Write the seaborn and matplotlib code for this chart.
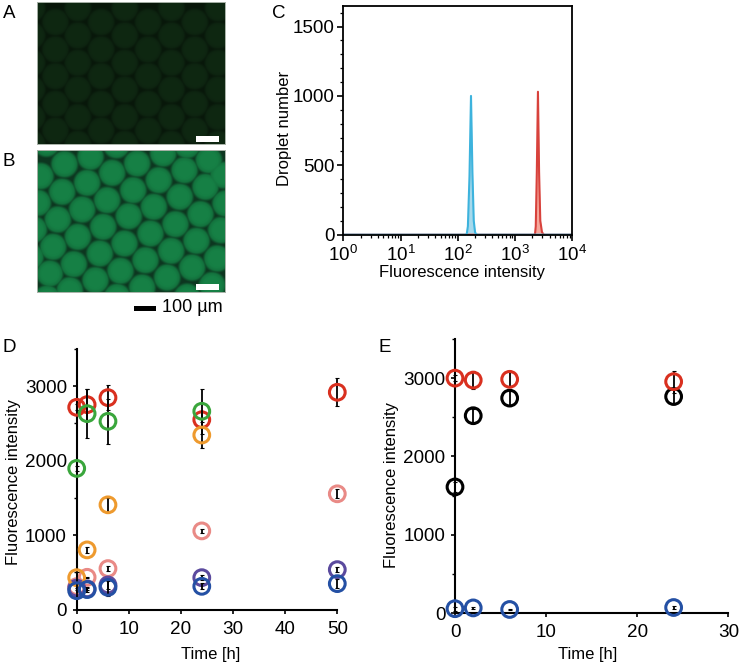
import numpy as np
import pandas as pd
import matplotlib
matplotlib.use("Agg")
import matplotlib.pyplot as plt
from matplotlib.ticker import MultipleLocator, LogLocator, NullFormatter
from matplotlib.patches import Rectangle
import seaborn as sns

sns.set_theme(style="ticks")
plt.rcParams["font.family"] = ["Liberation Sans", "DejaVu Sans"]
plt.rcParams["mathtext.default"] = "regular"
plt.rcParams["axes.unicode_minus"] = False

W, H = 740, 665
FS = 12
TICK_FS = 13.6

# ---- panel C histogram values
c_blue_x = [1, 135, 143, 150, 160, 170, 180, 190, 200, 208, 225, 10000]
c_blue_y = [0, 0, 3, 60, 420, 1000, 450, 100, 20, 3, 0, 0]
c_red_x = [1, 2100, 2228, 2300, 2400, 2512, 2630, 2760, 2950, 3113, 3300, 10000]
c_red_y = [0, 0, 3, 60, 450, 1030, 450, 100, 20, 3, 0, 0]

# ---- panel D
d_t_red = [0, 2, 6, 24, 50]
d_red = [2717, 2753, 2847, 2551, 2919]
d_red_err = [40, 210, 166, 100, 190]
d_t_green = [0, 2, 6, 24]
d_green = [1897, 2632, 2529, 2664]
d_green_err = [30, 330, 305, 300]
d_t_orange = [0, 2, 6, 24]
d_orange = [430, 803, 1408, 2345]
d_orange_err = [70, 45, 95, 175]
d_t_pink = [0, 2, 6, 24, 50]
d_pink = [310, 435, 552, 1058, 1556]
d_pink_err = [20, 5, 30, 30, 60]
d_t_purple = [0, 2, 6, 24, 50]
d_purple = [290, 280, 332, 430, 538]
d_purple_err = [25, 10, 50, 30, 30]
d_t_blue = [0, 2, 6, 24, 50]
d_blue = [255, 270, 300, 314, 350]
d_blue_err = [100, 30, 110, 40, 60]

# ---- panel E
e_t = [0, 2, 6, 24]
e_red = [3000, 2975, 2985, 2955]
e_red_err = [40, 110, 90, 140]
e_black = [1610, 2520, 2745, 2765]
e_black_err = [60, 80, 90, 100]
e_blue = [55, 65, 45, 70]
e_blue_err = [25, 10, 10, 20]

C_RED = "#d9301f"
C_GREEN = "#3aa63c"
C_ORANGE = "#ee9a2e"
C_PINK = "#e98a86"
C_PURPLE = "#5b4a9e"
C_BLUE = "#2450a4"
C_BLACK = "#000000"

# ---- droplet centres in the photographs (crop units, 3 per pixel)
a_col_x = [-15, 55, 122, 192, 263, 333, 403, 473, 543]
a_col_y_odd = [18, 100, 182, 262, 345, 425]
a_col_y_even = [60, 142, 222, 305, 385, 465]
b_cx = [28, 82, 160, 238, 300, 378, 442, 515, 450,
        10, 150, 225, 365, 288, 505, 428, 558,
        75, 135, 210, 350, 275, 490, 415, 565,
        2, 62, 198, 340, 262, 478, 402, 552,
        -10, 48, 122, 188, 325, 250, 465, 390, 540,
        -20, 110, 38, 175, 315, 525, 98, 240, 450, 30]
b_cy = [-20, 42, 20, -15, 40, 10, 60, 30, -15,
        78, 98, 68, 90, 120, 110, 140, 75,
        125, 178, 150, 170, 198, 192, 222, 160,
        158, 208, 230, 250, 280, 272, 302, 240,
        238, 290, 260, 310, 330, 362, 352, 382, 325,
        320, 342, 370, 390, 412, 405, 420, 440, 440, 445]


def px_axes(l, t, r, b):
    return fig.add_axes([l / W, 1 - b / H, (r - l) / W, (b - t) / H])


def droplet_image(cx, cy, rad, bright, edge, gap):
    X, Y = np.meshgrid(np.arange(0, 564, 1.0), np.arange(0, 426, 1.0))
    dist = np.full(X.shape, 1e9)
    for a, b in zip(cx, cy):
        dist = np.minimum(dist, np.hypot(X - a, Y - b))
    inner = np.clip((rad - dist) / 14.0, 0, 1)[..., None]
    rim = np.clip((rad + 4 - dist) / 8.0, 0, 1)[..., None]
    col = np.array(edge) + (np.array(bright) - np.array(edge)) * inner
    img = np.array(gap) + (col - np.array(gap)) * rim
    return img / 255.0


def photo(l, t, r, b, img):
    ax = px_axes(l, t, r, b)
    ax.imshow(img, extent=[0, 564, 426, 0], aspect="auto", interpolation="bilinear")
    ax.set_xticks([])
    ax.set_yticks([])
    for s in ax.spines.values():
        s.set_color("#a8b2a8")
        s.set_linewidth(0.7)
    ax.add_patch(Rectangle((478, 403), 68, 16, color="white", lw=0))
    return ax


def rings(ax, t, y, err, color, zo):
    ax.errorbar(t, y, yerr=err, fmt="none", ecolor="black", elinewidth=1.3, capsize=1.2,
                capthick=0.8, zorder=zo, clip_on=False)
    df = pd.DataFrame({"t": t, "y": y})
    sns.scatterplot(data=df, x="t", y="y", ax=ax, s=128, facecolor="none", edgecolor=color,
                    linewidth=2.2, zorder=zo + 0.5, clip_on=False, legend=False)


def place_labels(ax, xtext, ytext, xpos, ypos):
    ax.set_xlabel(xtext, fontsize=FS, color="black", va="center")
    ax.set_ylabel(ytext, fontsize=FS, color="black", va="center")
    ax.xaxis.set_label_coords(xpos[0] / W, 1 - xpos[1] / H, transform=fig.transFigure)
    ax.yaxis.set_label_coords(ypos[0] / W, 1 - ypos[1] / H, transform=fig.transFigure)


def lshape(ax, xpos, ypos):
    sns.despine(ax=ax)
    for side in ("left", "bottom"):
        ax.spines[side].set_linewidth(1.5)
        ax.spines[side].set_color("black")
    ax.patch.set_alpha(0)
    ax.tick_params(axis="x", which="major", labelsize=TICK_FS, colors="black", width=1.2, length=3, pad=5)
    ax.tick_params(axis="y", which="major", labelsize=TICK_FS, colors="black", width=1.2, length=3, pad=4)
    ax.tick_params(axis="y", which="minor", width=1.0, length=2, colors="black")
    place_labels(ax, "Time [h]", "Fluorescence intensity", xpos, ypos)


fig = plt.figure(figsize=(W / 100, H / 100), dpi=100, facecolor="white")

# ---- A
a_cx, a_cy = [], []
for i, xv in enumerate(a_col_x):
    for yv in (a_col_y_odd if i % 2 == 0 else a_col_y_even):
        a_cx.append(xv)
        a_cy.append(yv)
photo(37, 2, 225, 144, droplet_image(a_cx, a_cy, 40, (15, 40, 18), (13, 35, 16), (8, 23, 10)))

# ---- B
photo(37, 150, 225, 292, droplet_image(b_cx, b_cy, 40, (22, 128, 69), (18, 108, 58), (13, 54, 32)))

letter_pos = {"A": (3, 13), "B": (3, 162), "C": (272, 13), "D": (3, 348), "E": (378, 347)}
for letter, (xp, yp) in letter_pos.items():
    fig.text(xp / W, 1 - yp / H, letter, fontsize=13.5, color="black", ha="left", va="center")

fig.add_artist(Rectangle((134 / W, 1 - 311 / H), 22 / W, 5.5 / H, transform=fig.transFigure,
                         color="black", lw=0))
fig.text(162 / W, 1 - 308 / H, "100 µm", fontsize=13, color="black", ha="left", va="center")

# ---- C
axc = px_axes(343.3, 5.7, 572.3, 234.7)
axc.set_xscale("log")
axc.fill_between(c_blue_x, c_blue_y, color="#a6d9ec", lw=0, zorder=2)
axc.fill_between(c_red_x, c_red_y, color="#f6a79b", lw=0, zorder=2)
sns.lineplot(x=c_red_x, y=c_red_y, ax=axc, color="#d8423c", lw=1.5, zorder=3, errorbar=None,
             estimator=None, sort=False)
sns.lineplot(x=c_blue_x, y=c_blue_y, ax=axc, color="#3db3dd", lw=1.5, zorder=3, errorbar=None,
             estimator=None, sort=False)
axc.set_xlim(1, 10000)
axc.set_ylim(0, 1650)
axc.set_yticks([0, 500, 1000, 1500])
axc.yaxis.set_minor_locator(MultipleLocator(100))
axc.xaxis.set_major_locator(LogLocator(base=10, numticks=6))
axc.xaxis.set_minor_locator(LogLocator(base=10, subs=np.arange(2, 10) * 1.0, numticks=20))
axc.xaxis.set_minor_formatter(NullFormatter())
for s in axc.spines.values():
    s.set_linewidth(1.3)
    s.set_color("black")
    s.set_zorder(4)
axc.tick_params(axis="x", which="major", labelsize=TICK_FS, colors="black", width=1.2, length=4, pad=3)
axc.tick_params(axis="y", which="major", labelsize=TICK_FS, colors="black", width=1.2, length=4, pad=2)
axc.tick_params(axis="both", which="minor", colors="black", width=0.9, length=2.2)
place_labels(axc, "Fluorescence intensity", "Droplet number", (462, 273), (285, 128))

# ---- D
axd = px_axes(76.7, 349, 337.3, 609.7)
rings(axd, d_t_red, d_red, d_red_err, C_RED, 3)
rings(axd, d_t_green, d_green, d_green_err, C_GREEN, 4)
rings(axd, d_t_pink, d_pink, d_pink_err, C_PINK, 5)
rings(axd, d_t_purple, d_purple, d_purple_err, C_PURPLE, 6)
rings(axd, d_t_orange, d_orange, d_orange_err, C_ORANGE, 7)
rings(axd, d_t_blue, d_blue, d_blue_err, C_BLUE, 8)
axd.set_xlim(0, 50)
axd.set_ylim(0, 3500)
axd.set_xticks(range(0, 51, 10))
axd.set_yticks(range(0, 3001, 1000))
axd.yaxis.set_minor_locator(MultipleLocator(500))
lshape(axd, (211, 655), (14, 482))

# ---- E
axe = px_axes(455, 339, 728.3, 613)
rings(axe, e_t, e_black, e_black_err, C_BLACK, 3)
rings(axe, e_t, e_red, e_red_err, C_RED, 4)
rings(axe, e_t, e_blue, e_blue_err, C_BLUE, 5)
axe.set_xlim(0, 30)
axe.set_ylim(0, 3500)
axe.set_xticks(range(0, 31, 10))
axe.set_yticks(range(0, 3001, 1000))
axe.yaxis.set_minor_locator(MultipleLocator(500))
lshape(axe, (588, 655), (391, 485))

fig.savefig("out.png", dpi=100, facecolor="white")
